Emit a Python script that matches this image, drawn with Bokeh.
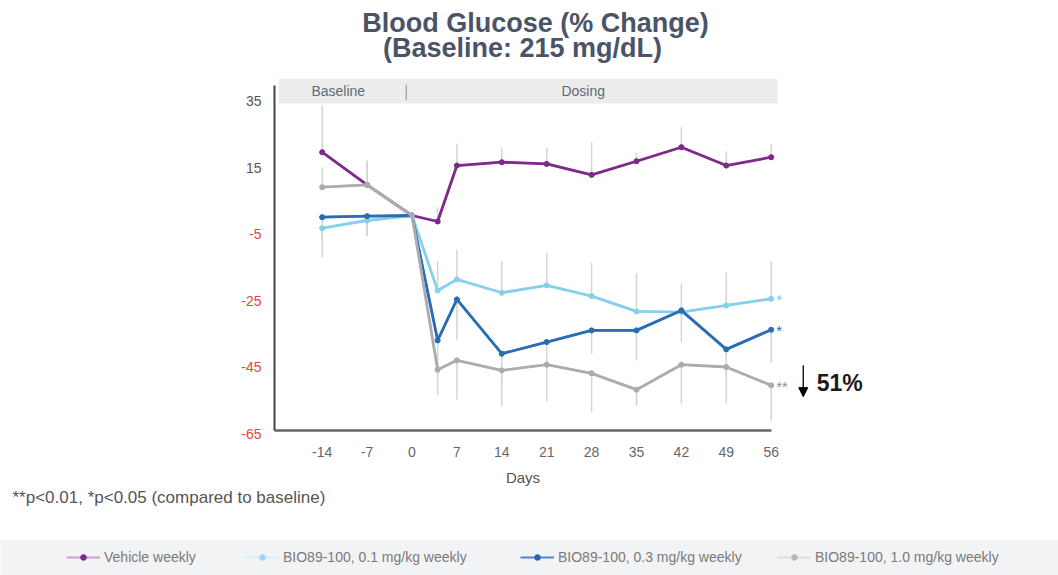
from bokeh.plotting import figure
from bokeh.models import (Range1d, FixedTicker, Label, BoxAnnotation, Arrow,
                          NormalHead, Legend, LegendItem, LinearAxis)
from bokeh.embed import file_html
from bokeh.resources import INLINE

FONT = "Liberation Sans"

# ---------------- data ----------------
days = [-14, -7, 0, 4, 7, 14, 21, 28, 35, 42, 49, 56]
x_ticks = [-14, -7, 0, 7, 14, 21, 28, 35, 42, 49, 56]
y_ticks = [35, 15, -5, -25, -45, -65]
y_tick_colors = ["#555555", "#555555", "#e8433f", "#e8433f", "#e8433f", "#e8433f"]

series_names = ["Vehicle weekly", "BIO89-100, 0.1 mg/kg weekly",
                "BIO89-100, 0.3 mg/kg weekly", "BIO89-100, 1.0 mg/kg weekly"]

vehicle = [19.0, 9.2, 0, -1.8, 15.0, 16.0, 15.5, 12.2, 16.3, 20.5, 15.0, 17.5]
vehicle_hi = [14.0, 7.3, 0, 4.3, 6.6, 4.3, 4.8, 9.8, 2.5, 6.0, 4.3, 4.0]
vehicle_lo = [0, 0, 0, 0, 0, 0, 0, 0, 0, 0, 0, 0]

low_dose = [-3.8, -1.5, 0, -22.5, -19.2, -23.2, -21.0, -24.2, -28.8, -29.0, -27.0, -25.0]
low_hi = [0, 0, 0, 8.7, 8.9, 9.5, 9.8, 9.9, 11.3, 8.5, 10.0, 11.3]
low_lo = [8.8, 4.7, 0, 0, 0, 0, 0, 0, 0, 0, 0, 0]

mid_dose = [-0.5, -0.2, 0, -37.5, -25.2, -41.5, -38.0, -34.5, -34.5, -28.5, -40.2, -34.3]
mid_hi = [0, 0, 0, 0, 0, 0, 0, 0, 0, 0, 0, 0]
mid_lo = [6.0, 6.0, 0, 8.0, 12.0, 8.0, 8.0, 7.0, 9.0, 9.5, 8.0, 10.0]

high_dose = [8.5, 9.2, 0, -46.3, -43.5, -46.5, -44.8, -47.4, -52.3, -44.8, -45.5, -51.0]
high_hi = [6.0, 7.0, 0, 0, 0, 0, 0, 0, 0, 0, 0, 0]
high_lo = [0, 0, 0, 7.7, 11.8, 10.7, 11.0, 11.7, 4.8, 11.7, 11.0, 10.6]

stars = ["", "*", "*", "**"]
reduction_label = "51%"

# ---------------- styling ----------------
line_colors = ["#7e2a8a", "#86d0ec", "#2b6db4", "#a9adb2"]
star_colors = ["#7e2a8a", "#6fc4e6", "#2b6db4", "#8f9398"]
legend_line_colors = ["#d49ad6", "#d3edf8", "#4f88cd", "#dcdddf"]
legend_dot_colors = ["#7e2a8a", "#9bd8f0", "#2a64ad", "#b5b8bc"]

W, H = 1058, 575
# data window: x 6.414 px/day (day 0 at x=411.5), y 3.33 px/unit (0 at y=215)
X0, XS = 411.5, 6.414
Y0, YS = 215.0, 3.33
x_lo, x_hi = -X0 / XS, (W - X0) / XS
y_hi, y_lo = Y0 / YS, (Y0 - H) / YS
axis_x_start, axis_x_end = -21.44, 56.1
axis_y_start, axis_y_end = -64.6, 39.0

p = figure(width=W, height=H, output_backend="svg", toolbar_location=None,
           x_range=Range1d(x_lo, x_hi), y_range=Range1d(y_lo, y_hi),
           x_axis_location=None, y_axis_location=None,
           min_border=0, min_border_left=0, min_border_right=0,
           min_border_top=0, min_border_bottom=0)
p.outline_line_color = None
p.grid.visible = False
p.background_fill_color = "white"
p.border_fill_color = "white"

# axes placed at fixed positions inside the frame
xax = LinearAxis(fixed_location=axis_y_start, bounds=(axis_x_start, axis_x_end),
                 ticker=FixedTicker(ticks=x_ticks),
                 major_label_overrides={t: str(t) for t in x_ticks})
xax.major_tick_line_color = None
xax.minor_tick_line_color = None
xax.axis_line_color = "#666666"
xax.axis_line_width = 2.5
xax.major_label_text_font = FONT
xax.major_label_text_font_size = "14px"
xax.major_label_text_color = "#666666"
xax.major_label_standoff = 10
xax.axis_label = "Days"
xax.axis_label_text_font = FONT
xax.axis_label_text_font_size = "15px"
xax.axis_label_text_font_style = "normal"
xax.axis_label_text_color = "#555555"
xax.axis_label_standoff = 9
p.add_layout(xax, "below")

yax = LinearAxis(fixed_location=axis_x_start, bounds=(axis_y_start, axis_y_end),
                 ticker=FixedTicker(ticks=y_ticks))
yax.major_tick_line_color = None
yax.minor_tick_line_color = None
yax.major_label_text_alpha = 0
yax.major_label_text_font_size = "1px"
yax.axis_line_color = "#444444"
yax.axis_line_width = 2
p.add_layout(yax, "left")

# y tick labels (coloured individually)
for v, c in zip(y_ticks, y_tick_colors):
    p.add_layout(Label(x=261, y=v, y_offset=-2, x_units="screen", y_units="data",
                       text=str(v), text_align="right", text_baseline="middle",
                       text_font=FONT, text_font_size="14px", text_color=c))

# phase band
p.add_layout(BoxAnnotation(left=-20.8, right=57.0, bottom=33.6, top=41.1,
                           fill_color="#ececec", fill_alpha=1, line_color=None,
                           level="underlay"))
p.add_layout(Label(x=-11.5, y=37.4, text="Baseline", text_align="center",
                   text_baseline="middle", text_font=FONT, text_font_size="14px",
                   text_color="#646a74"))
p.add_layout(Label(x=26.7, y=37.4, text="Dosing", text_align="center",
                   text_baseline="middle", text_font=FONT, text_font_size="14px",
                   text_color="#646a74"))
p.add_layout(Arrow(x_start=-0.9, y_start=39.3, x_end=-0.9, y_end=34.6, end=None,
                   line_color="#8a8a8a", line_width=1))

# series
all_vals = [vehicle, low_dose, mid_dose, high_dose]
all_hi = [vehicle_hi, low_hi, mid_hi, high_hi]
all_lo = [vehicle_lo, low_lo, mid_lo, high_lo]

for vals, hi, lo in zip(all_vals, all_hi, all_lo):
    xs, y0, y1 = [], [], []
    for d, v, h, l in zip(days, vals, hi, lo):
        if h == 0 and l == 0:
            continue
        xs.append(d)
        y0.append(v - l)
        y1.append(v + h)
    p.segment(x0=xs, y0=y0, x1=xs, y1=y1, line_color="#d4d4d4", line_width=1.5)

# legend band
p.add_layout(BoxAnnotation(left=0, right=W, bottom=0, top=35,
                           left_units="screen", right_units="screen",
                           bottom_units="screen", top_units="screen",
                           fill_color="#f2f3f5", fill_alpha=1, line_color=None,
                           level="underlay"))

legend_x = [66, 245, 520, 777]
for i, (vals, name) in enumerate(zip(all_vals, series_names)):
    col = line_colors[i]
    # faded copies (hidden under the series) used only as legend samples
    dl = p.line(days, vals, line_color=legend_line_colors[i], line_width=2.2)
    ds = p.scatter(days, vals, marker="circle", size=4.5,
                   fill_color=legend_dot_colors[i], line_color=legend_dot_colors[i])
    p.line(days, vals, line_color=col, line_width=2.8, line_join="round")
    p.scatter(days, vals, marker="circle", size=5, fill_color=col, line_color=col)
    leg = Legend(items=[LegendItem(label=name, renderers=[dl, ds])],
                 location=(legend_x[i], 10), orientation="horizontal",
                 background_fill_alpha=0, border_line_alpha=0, padding=0, margin=0,
                 glyph_width=34, glyph_height=14, label_standoff=4,
                 label_text_font=FONT, label_text_font_size="14px",
                 label_text_color="#7a7a7a")
    p.add_layout(leg)
    if stars[i]:
        p.add_layout(Label(x=days[-1], y=vals[-1], x_offset=5, y_offset=-1, text=stars[i],
                           text_align="left", text_baseline="middle",
                           text_font=FONT, text_font_size="15px",
                           text_color=star_colors[i]))

# reduction annotation
p.add_layout(Arrow(x_start=61.0, y_start=-45.0, x_end=61.0, y_end=-54.4,
                   line_color="black", line_width=1.3,
                   end=NormalHead(size=9, fill_color="black", line_color="black")))
p.add_layout(Label(x=63.1, y=-50.2, text=reduction_label, text_align="left",
                   text_baseline="middle", text_font=FONT, text_font_size="23px",
                   text_font_style="bold", text_color="#1a1a1a"))

# titles
p.add_layout(Label(x=535, y=H - 22, x_units="screen", y_units="screen",
                   text="Blood Glucose (% Change)", text_align="center",
                   text_baseline="middle", text_font=FONT, text_font_size="27px",
                   text_font_style="bold", text_color="#4a5466"))
p.add_layout(Label(x=522, y=H - 47, x_units="screen", y_units="screen",
                   text="(Baseline: 215 mg/dL)", text_align="center",
                   text_baseline="middle", text_font=FONT, text_font_size="27px",
                   text_font_style="bold", text_color="#4a5466"))

# footnote
p.add_layout(Label(x=12, y=H - 497, x_units="screen", y_units="screen",
                   text="**p<0.01, *p<0.05 (compared to baseline)", text_align="left",
                   text_baseline="middle", text_font=FONT, text_font_size="17px",
                   text_color="#555555"))

open("out.html", "w").write(file_html(p, INLINE))
